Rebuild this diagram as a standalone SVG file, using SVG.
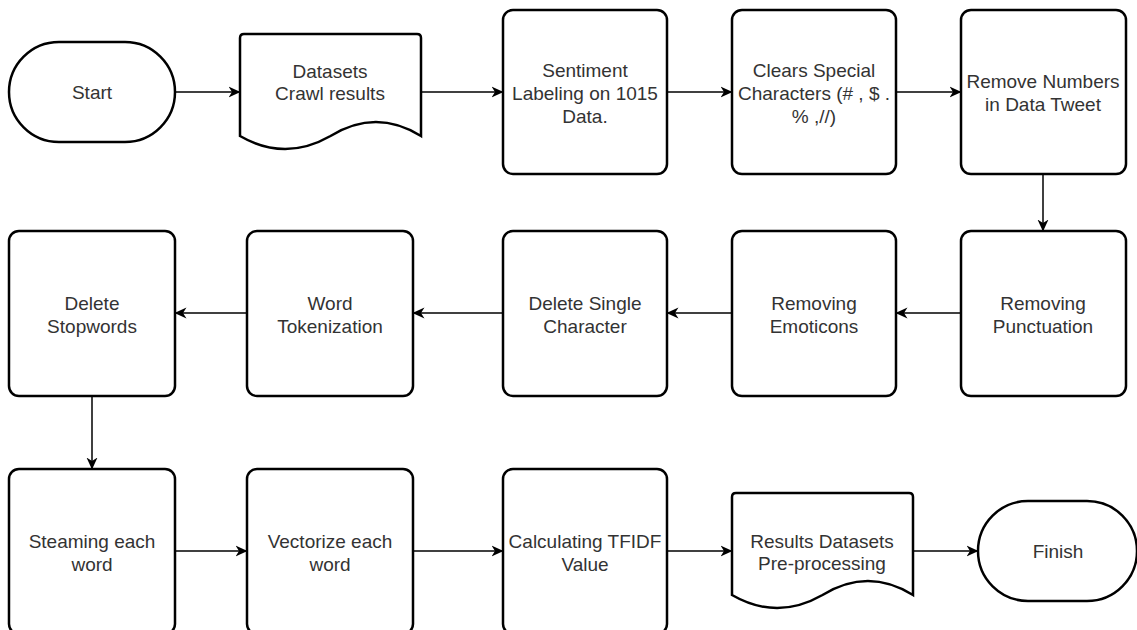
<svg xmlns="http://www.w3.org/2000/svg" width="1137" height="630" viewBox="0 0 1137 630">
<style>
.n{fill:#fff;stroke:#000;stroke-width:2.5}
.t{font-family:"Liberation Sans",Arial,sans-serif;font-size:19px;fill:#333;text-anchor:middle}
.c{fill:none;stroke:#000;stroke-width:1.5;marker-end:url(#ah)}
</style>
<defs>
<marker id="ah" markerUnits="userSpaceOnUse" markerWidth="12" markerHeight="12" viewBox="0 0 12 12" refX="11.5" refY="6" orient="auto">
<path d="M0,0.5 L12,6 L0,11.5 L3.5,6 z" fill="#000"/>
</marker>
</defs>
<rect width="1137" height="630" fill="#fff"/>
<g id="connectors">
<path class="c" d="M175,92 H240"/>
<path class="c" d="M421,92 H503"/>
<path class="c" d="M667,92 H732"/>
<path class="c" d="M896,92 H961"/>
<path class="c" d="M1043,174 V231"/>
<path class="c" d="M961,313 H896"/>
<path class="c" d="M732,313 H667"/>
<path class="c" d="M503,313 H413"/>
<path class="c" d="M247,313 H175"/>
<path class="c" d="M92,396 V469"/>
<path class="c" d="M175,551 H247"/>
<path class="c" d="M413,551 H503"/>
<path class="c" d="M667,551 H732"/>
<path class="c" d="M913,551 H978"/>
</g>
<g id="start">
<rect class="n" x="9" y="42" width="166" height="100" rx="50" ry="50"/>
<text class="t" x="92" y="99">Start</text>
</g>
<g id="datasets">
<path class="n" d="M244,34 H417 Q421,34 421,38 V136 Q376,108 330.5,136 Q285,162 240,136 V38 Q240,34 244,34 Z"/>
<text class="t" x="330" y="78">Datasets</text>
<text class="t" x="330" y="100">Crawl results</text>
</g>
<g id="sentiment">
<rect class="n" x="503" y="10" width="164" height="164" rx="10"/>
<text class="t" x="585" y="77">Sentiment</text>
<text class="t" x="585" y="100">Labeling on 1015</text>
<text class="t" x="585" y="123">Data.</text>
</g>
<g id="clears">
<rect class="n" x="732" y="10" width="164" height="164" rx="10"/>
<text class="t" x="814" y="77">Clears Special</text>
<text class="t" x="814" y="100">Characters (# , $ .</text>
<text class="t" x="814" y="123">% ,//)</text>
</g>
<g id="removenumbers">
<rect class="n" x="961" y="10" width="165" height="164" rx="10"/>
<text class="t" x="1043" y="88">Remove Numbers</text>
<text class="t" x="1043" y="111">in Data Tweet</text>
</g>
<g id="punctuation">
<rect class="n" x="961" y="231" width="165" height="165" rx="10"/>
<text class="t" x="1043" y="310">Removing</text>
<text class="t" x="1043" y="333">Punctuation</text>
</g>
<g id="emoticons">
<rect class="n" x="732" y="231" width="164" height="165" rx="10"/>
<text class="t" x="814" y="310">Removing</text>
<text class="t" x="814" y="333">Emoticons</text>
</g>
<g id="singlechar">
<rect class="n" x="503" y="231" width="164" height="165" rx="10"/>
<text class="t" x="585" y="310">Delete Single</text>
<text class="t" x="585" y="333">Character</text>
</g>
<g id="tokenization">
<rect class="n" x="247" y="231" width="166" height="165" rx="10"/>
<text class="t" x="330" y="310">Word</text>
<text class="t" x="330" y="333">Tokenization</text>
</g>
<g id="stopwords">
<rect class="n" x="9" y="231" width="166" height="165" rx="10"/>
<text class="t" x="92" y="310">Delete</text>
<text class="t" x="92" y="333">Stopwords</text>
</g>
<g id="steaming">
<rect class="n" x="9" y="469" width="166" height="165" rx="10"/>
<text class="t" x="92" y="548">Steaming each</text>
<text class="t" x="92" y="571">word</text>
</g>
<g id="vectorize">
<rect class="n" x="247" y="469" width="166" height="165" rx="10"/>
<text class="t" x="330" y="548">Vectorize each</text>
<text class="t" x="330" y="571">word</text>
</g>
<g id="tfidf">
<rect class="n" x="503" y="469" width="164" height="165" rx="10"/>
<text class="t" x="585" y="548">Calculating TFIDF</text>
<text class="t" x="585" y="571">Value</text>
</g>
<g id="results">
<path class="n" d="M736,493 H909 Q913,493 913,497 V595 Q868,567 822.5,595 Q777,621 732,595 V497 Q732,493 736,493 Z"/>
<text class="t" x="822" y="548">Results Datasets</text>
<text class="t" x="822" y="570">Pre-processing</text>
</g>
<g id="finish">
<rect class="n" x="978" y="501" width="159" height="100" rx="50" ry="50"/>
<text class="t" x="1058" y="558">Finish</text>
</g>
</svg>
